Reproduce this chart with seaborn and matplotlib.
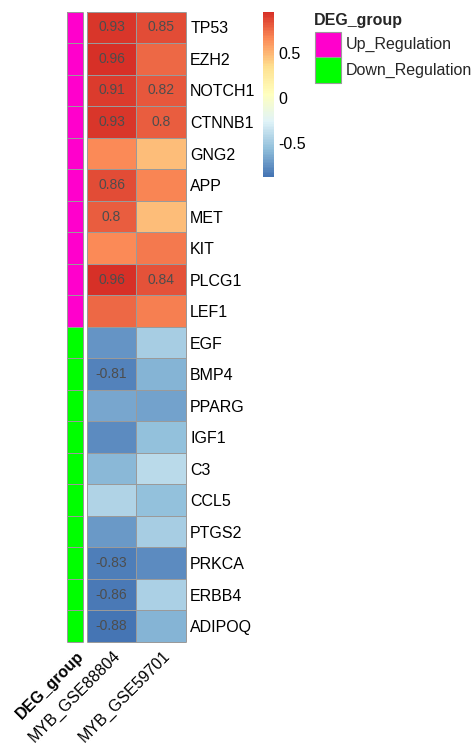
import numpy as np
import pandas as pd
import matplotlib
matplotlib.use("Agg")
import matplotlib.pyplot as plt
import matplotlib.transforms as mtransforms
from matplotlib.colors import LinearSegmentedColormap, ListedColormap
from matplotlib.patches import Rectangle
import seaborn as sns

# ---------------- data ----------------
genes = ["TP53", "EZH2", "NOTCH1", "CTNNB1", "GNG2", "APP", "MET", "KIT", "PLCG1", "LEF1",
         "EGF", "BMP4", "PPARG", "IGF1", "C3", "CCL5", "PTGS2", "PRKCA", "ERBB4", "ADIPOQ"]
samples = ["MYB_GSE88804", "MYB_GSE59701"]
gse88804 = [0.93, 0.96, 0.91, 0.93, 0.66, 0.86, 0.80, 0.66, 0.96, 0.76,
            -0.74, -0.81, -0.66, -0.77, -0.60, -0.44, -0.73, -0.83, -0.86, -0.88]
gse59701 = [0.85, 0.77, 0.82, 0.80, 0.48, 0.67, 0.48, 0.71, 0.84, 0.69,
            -0.48, -0.62, -0.68, -0.56, -0.42, -0.55, -0.48, -0.78, -0.47, -0.62]
deg_group = ["Up_Regulation"] * 10 + ["Down_Regulation"] * 10
group_levels = ["Up_Regulation", "Down_Regulation"]
group_colors = ["#FF00CC", "#00FF00"]
cbar_ticks = [-0.5, 0, 0.5]
cbar_ticklabels = ["-0.5", "0", "0.5"]
annotation_title = "DEG_group"

# ---------------- style ----------------
sns.set_theme(style="white")
plt.rcParams["font.family"] = ["Liberation Sans", "DejaVu Sans"]
FS = 11.5
LW = 0.72
LC = "#9A9A9A"

W, H = 473, 746
fig = plt.figure(figsize=(W / 100, H / 100), dpi=100)
fig.patch.set_facecolor("white")


def px_axes(x0, y0, x1, y1):
    return fig.add_axes([x0 / W, 1 - y1 / H, (x1 - x0) / W, (y1 - y0) / H])


def cell_borders(ax, nrows, ncols):
    h = ax.hlines(np.arange(nrows + 1), 0, ncols, colors=LC, linewidth=LW, clip_on=False, zorder=3)
    v = ax.vlines(np.arange(ncols + 1), 0, nrows, colors=LC, linewidth=LW, clip_on=False, zorder=3)
    h.set_snap(True)
    v.set_snap(True)


top, bot = 11.7, 642
ax_ann = px_axes(66.7, top, 83.3, bot)
ax_hm = px_axes(86.7, top, 186, bot)
cax = px_axes(263.3, 11.7, 274, 176.7)

df = pd.DataFrame({samples[0]: gse88804, samples[1]: gse59701}, index=genes)
annot = df.map(lambda v: f"{v:g}" if abs(v) >= 0.8 else "")

cmap = LinearSegmentedColormap.from_list(
    "pheat", ["#4575B4", "#91BFDB", "#E0F3F8", "#FFFFBF", "#FEE090", "#FC8D59", "#D73027"], N=100)

sns.heatmap(df, ax=ax_hm, cmap=cmap, vmin=df.values.min(), vmax=df.values.max(),
            annot=annot.values, fmt="", annot_kws={"color": "#4D4D4D", "fontsize": 10},
            linewidths=0, cbar_ax=cax,
            cbar_kws={"ticks": cbar_ticks}, xticklabels=False)
cell_borders(ax_hm, len(genes), len(samples))

# annotation column
codes = [group_levels.index(g) for g in deg_group]
ann_df = pd.DataFrame({annotation_title: codes}, index=genes)
sns.heatmap(ann_df, ax=ax_ann, cmap=ListedColormap(group_colors), vmin=-0.5, vmax=1.5,
            cbar=False, linewidths=0, xticklabels=False, yticklabels=False)
cell_borders(ax_ann, len(genes), 1)
ax_ann.set_ylabel("")

# row labels on the right
ax_hm.yaxis.tick_right()
ax_hm.set_yticks(np.arange(len(genes)) + 0.5)
ax_hm.set_yticklabels(genes, rotation=0, fontsize=FS, color="black")
ax_hm.tick_params(axis="y", length=0, pad=3)
ax_hm.set_ylabel("")
ax_hm.set_xlabel("")

# column labels
off = mtransforms.ScaledTranslation(1 / 100, -6 / 100, fig.dpi_scale_trans)
for i, name in enumerate(samples):
    tr = mtransforms.blended_transform_factory(ax_hm.transData, ax_hm.transAxes) + off
    ax_hm.text(i + 0.5, 0, name, transform=tr, rotation=45, ha="right", va="top",
               rotation_mode="anchor", fontsize=FS, color="black")
tr = mtransforms.blended_transform_factory(ax_ann.transData, ax_ann.transAxes) + off
ax_ann.text(0.5, 0, annotation_title, transform=tr, rotation=45, ha="right", va="top",
            rotation_mode="anchor", fontsize=FS, fontweight="bold", color="black")

# colorbar
cb = ax_hm.collections[0].colorbar
cb.outline.set_visible(False)
cax.set_yticks(cbar_ticks)
cax.set_yticklabels(cbar_ticklabels)
cax.tick_params(length=0, labelsize=FS, pad=3, colors="black")

# legend for annotation
fig.text(314 / W, 1 - 20 / H, annotation_title, fontsize=FS, fontweight="bold",
         va="center", ha="left")
for k, (lab, col) in enumerate(zip(group_levels, group_colors)):
    y0 = 31.7 + k * 25.8
    fig.patches.append(Rectangle((315 / W, 1 - (y0 + 25.8) / H), 25.7 / W, 25.8 / H,
                                 transform=fig.transFigure, facecolor=col,
                                 edgecolor=LC, lw=0.8))
    fig.text(346 / W, 1 - (y0 + 12.9) / H, lab, fontsize=FS, va="center", ha="left")

fig.savefig("out.png", dpi=100)
